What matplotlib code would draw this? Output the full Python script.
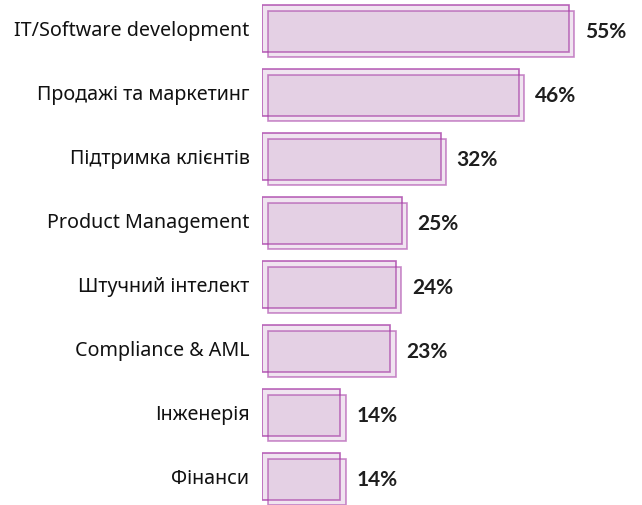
import matplotlib.pyplot as plt
import matplotlib.transforms as mtransforms

# Дані
categories = ['IT/Software development', 'Продажі та маркетинг', 'Підтримка клієнтів',
              'Product Management', 'Штучний інтелект', 'Compliance & AML',
              'Інженерія', 'Фінанси']
values = [55, 46, 32, 25, 24, 23, 14, 14]

plt.rcParams['font.family'] = ['Noto Sans', 'DejaVu Sans']

FILL = '#c597c5'
EDGE = '#a840a8'

fig = plt.figure(figsize=(6.42, 5.05), dpi=100)
ax = fig.add_axes([262 / 642, 0, 1 - 262 / 642, 1])

pos = list(range(len(categories)))

# основний прямокутник
ax.barh(pos, values, height=0.73, color=FILL, alpha=0.26, edgecolor='none')
ax.barh(pos, values, height=0.73, fill=False, edgecolor=EDGE, linewidth=1.2, alpha=0.8)

# зсунута копія ("ескізний" ефект)
shift = mtransforms.offset_copy(ax.transData, fig=fig, x=5.5, y=-5.5, units='dots')
ax.barh(pos, values, height=0.73, color=FILL, alpha=0.26, edgecolor='none', transform=shift)
ax.barh(pos, values, height=0.73, fill=False, edgecolor=EDGE, linewidth=1.2, alpha=0.6,
        transform=shift)

for p, v in zip(pos, values):
    ax.annotate(f'{v}%', xy=(v, p), xytext=(16, -4), textcoords='offset pixels',
                ha='left', va='center', fontsize=15, fontweight='bold', color='#1e1e1e',
                family=['Lato', 'Liberation Sans', 'DejaVu Sans'])

ax.set_yticks(pos)
ax.set_yticklabels(categories, fontsize=14.2, color='#111111')
ax.tick_params(axis='y', length=0, pad=9)
ax.set_xticks([])
ax.set_xlim(0, (642 - 262) / 5.58)
ax.set_ylim((505 - 28.5) / 64, -28.5 / 64)
for s in ax.spines.values():
    s.set_visible(False)

plt.savefig('out.png', dpi=100)
